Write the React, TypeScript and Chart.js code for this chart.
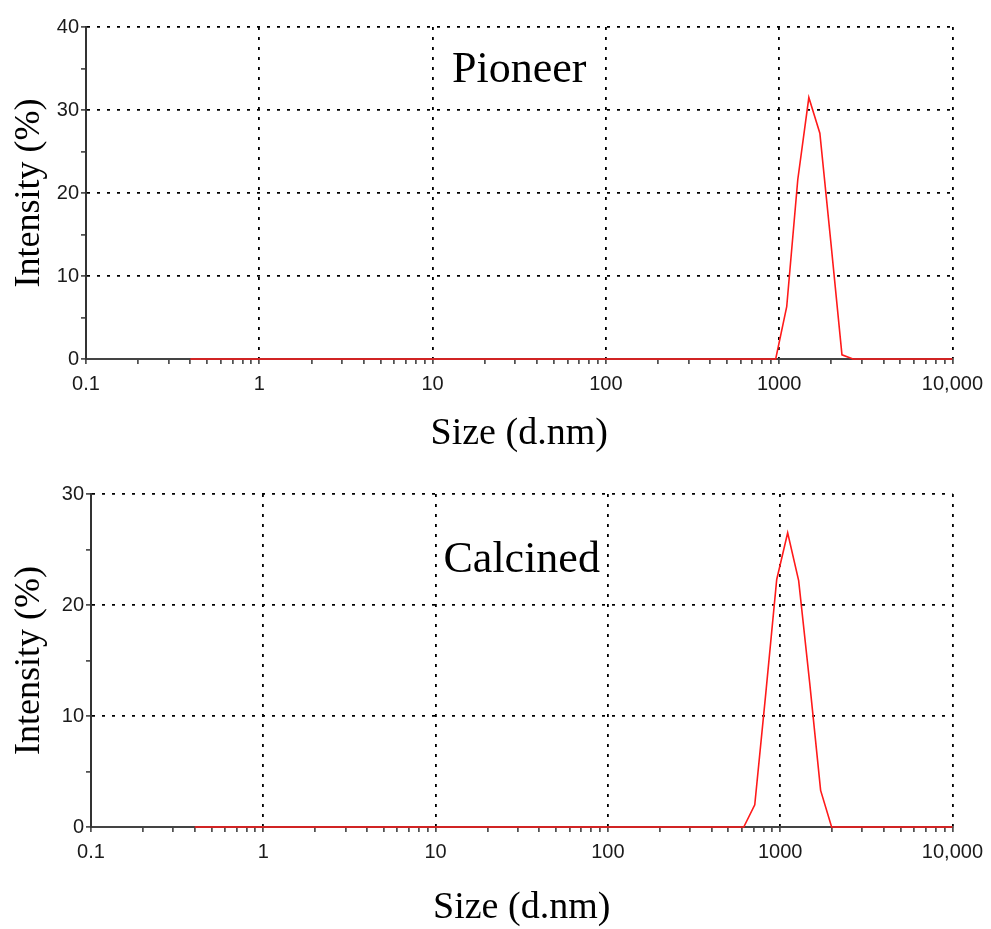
import React, { useEffect, useRef } from 'react';
import { Chart, registerables } from 'chart.js';

Chart.register(...registerables);

// Size bins (d.nm), log-spaced instrument classes
const SIZES_NM = [
  0.4, 0.4632, 0.5365, 0.6213, 0.7195, 0.8332, 0.9649, 1.117, 1.294, 1.499,
  1.736, 2.01, 2.328, 2.696, 3.122, 3.615, 4.187, 4.849, 5.615, 6.503,
  7.531, 8.721, 10.1, 11.7, 13.54, 15.69, 18.17, 21.04, 24.36, 28.21,
  32.67, 37.84, 43.82, 50.75, 58.77, 68.06, 78.82, 91.28, 105.7, 122.4,
  141.8, 164.2, 190.1, 220.2, 255.0, 295.3, 342.0, 396.1, 458.7, 531.2,
  615.1, 712.4, 825.0, 955.4, 1106, 1281, 1484, 1718, 1990, 2305,
  2669, 3091, 3580, 4145, 4801, 5560, 6439, 7456, 8635, 10000,
];

// Intensity (%) per bin
const PIONEER_INTENSITY = [
  0, 0, 0, 0, 0, 0, 0, 0, 0, 0,
  0, 0, 0, 0, 0, 0, 0, 0, 0, 0,
  0, 0, 0, 0, 0, 0, 0, 0, 0, 0,
  0, 0, 0, 0, 0, 0, 0, 0, 0, 0,
  0, 0, 0, 0, 0, 0, 0, 0, 0, 0,
  0, 0, 0, 0, 6.3, 21.6, 31.5, 27.2, 14.0, 0.5,
  0, 0, 0, 0, 0, 0, 0, 0, 0, 0,
];

const CALCINED_INTENSITY = [
  0, 0, 0, 0, 0, 0, 0, 0, 0, 0,
  0, 0, 0, 0, 0, 0, 0, 0, 0, 0,
  0, 0, 0, 0, 0, 0, 0, 0, 0, 0,
  0, 0, 0, 0, 0, 0, 0, 0, 0, 0,
  0, 0, 0, 0, 0, 0, 0, 0, 0, 0,
  0, 2.0, 12.0, 22.3, 26.5, 22.2, 13.0, 3.3, 0, 0,
  0, 0, 0, 0, 0, 0, 0, 0, 0, 0,
];

const X_MAJOR_TICKS = [0.1, 1, 10, 100, 1000, 10000];
const X_MAJOR_LABELS = ['0.1', '1', '10', '100', '1000', '10,000'];
const X_MINOR_MULTIPLIERS = [2, 3, 4, 5, 6, 7, 8, 9];

const PIONEER_Y_MAX = 40;
const CALCINED_Y_MAX = 30;
const Y_STEP = 5;
const Y_LABEL_STEP = 10;

const X_TITLE = 'Size (d.nm)';
const Y_TITLE = 'Intensity (%)';

const SERIF = '"Liberation Serif", "Times New Roman", serif';
const SANS = '"Liberation Sans", Arial, sans-serif';

const closeTo = (a: number, b: number) => Math.abs(a - b) <= Math.abs(b) * 1e-6;
const majorIndex = (v: number) => X_MAJOR_TICKS.findIndex((t) => closeTo(v, t));

const X_ALL_TICKS: number[] = (() => {
  const out: number[] = [];
  X_MAJOR_TICKS.forEach((t, i) => {
    out.push(t);
    if (i < X_MAJOR_TICKS.length - 1) X_MINOR_MULTIPLIERS.forEach((m) => out.push(t * m));
  });
  return out;
})();

const panelLabelPlugin = {
  id: 'panelLabel',
  afterDatasetsDraw(chart: any, _args: any, opts: any) {
    const { ctx, chartArea, scales } = chart;
    ctx.save();
    ctx.font = `44px ${SERIF}`;
    ctx.fillStyle = '#000';
    ctx.textAlign = 'center';
    ctx.textBaseline = 'alphabetic';
    ctx.fillText(opts.text, (chartArea.left + chartArea.right) / 2, scales.y.getPixelForValue(opts.y));
    ctx.restore();
  },
};

type PanelProps = {
  label: string;
  labelY: number;
  values: number[];
  yMax: number;
  top: number;
  height: number;
  area: { left: number; right: number; top: number; bottom: number };
  xTitlePad: number;
};

function Panel({ label, labelY, values, yMax, top, height, area, xTitlePad }: PanelProps) {
  const ref = useRef<HTMLCanvasElement | null>(null);

  useEffect(() => {
    if (!ref.current) return;
    const width = 991;
    const chart = new Chart(ref.current, {
      type: 'line',
      data: {
        datasets: [
          {
            data: SIZES_NM.map((s, i) => ({ x: s, y: values[i] })),
            borderColor: '#ff1a1a',
            borderWidth: 1.6,
            pointRadius: 0,
            tension: 0,
            fill: false,
            clip: 6,
          } as any,
        ],
      },
      options: {
        responsive: false,
        maintainAspectRatio: false,
        animation: false,
        layout: {
          autoPadding: false,
          padding: { left: 0, top: area.top, right: width - area.right, bottom: 0 },
        } as any,
        plugins: {
          legend: { display: false },
          tooltip: { enabled: false },
          panelLabel: { text: label, y: labelY },
        } as any,
        scales: {
          x: {
            type: 'logarithmic',
            min: X_MAJOR_TICKS[0],
            max: X_MAJOR_TICKS[X_MAJOR_TICKS.length - 1],
            afterBuildTicks: (scale: any) => {
              scale.ticks = X_ALL_TICKS.map((v) => ({ value: v }));
            },
            afterFit: (scale: any) => {
              scale.height = height - area.bottom;
            },
            ticks: {
              autoSkip: false,
              maxRotation: 0,
              minRotation: 0,
              padding: 8,
              color: '#1a1a1a',
              font: { family: SANS, size: 20 },
              callback: (value: any) => {
                const i = majorIndex(Number(value));
                return i >= 0 ? X_MAJOR_LABELS[i] : '';
              },
            },
            grid: {
              color: (ctx: any) => {
                const v = ctx.tick ? ctx.tick.value : NaN;
                const i = majorIndex(v);
                return i > 0 ? '#000' : 'rgba(0,0,0,0)';
              },
              lineWidth: 1.8,
              drawTicks: true,
              tickLength: 5,
              tickColor: '#333',
              tickWidth: 1.5,
            },
            border: { display: true, color: '#444', width: 2, dash: [3, 7] },
            title: {
              display: true,
              text: X_TITLE,
              color: '#000',
              font: { family: SERIF, size: 38, lineHeight: 1.1 },
              padding: { top: 0, bottom: xTitlePad },
            },
          },
          y: {
            type: 'linear',
            min: 0,
            max: yMax,
            afterFit: (scale: any) => {
              scale.width = area.left;
            },
            ticks: {
              stepSize: Y_STEP,
              padding: 2,
              color: '#1a1a1a',
              font: { family: SANS, size: 20 },
              callback: (value: any) => (Number(value) % Y_LABEL_STEP === 0 ? String(value) : ''),
            },
            grid: {
              color: (ctx: any) => {
                const v = ctx.tick ? ctx.tick.value : NaN;
                return v > 0 && v % Y_LABEL_STEP === 0 ? '#000' : 'rgba(0,0,0,0)';
              },
              lineWidth: 1.8,
              drawTicks: true,
              tickLength: 5,
              tickColor: '#333',
              tickWidth: 1.5,
            },
            border: { display: true, color: '#333', width: 2, dash: [3, 7] },
            title: {
              display: true,
              text: Y_TITLE,
              color: '#000',
              font: { family: SERIF, size: 36, lineHeight: 1.1 },
              padding: { top: 10, bottom: 0 },
            },
          },
        },
      } as any,
      plugins: [panelLabelPlugin as any],
    });
    return () => chart.destroy();
  }, [label, labelY, values, yMax, height, area, xTitlePad]);

  return (
    <canvas
      ref={ref}
      width={991}
      height={height}
      style={{ position: 'absolute', left: 0, top, width: 991, height, display: 'block' }}
    />
  );
}

const TOP_AREA = { left: 86, right: 953, top: 27, bottom: 359 };
const BOTTOM_AREA = { left: 91, right: 958, top: 29, bottom: 362 };

export default function App() {
  return (
    <div
      style={{
        position: 'absolute',
        left: 0,
        top: 0,
        width: 991,
        height: 929,
        background: '#fff',
        overflow: 'hidden',
      }}
    >
      <Panel
        label="Pioneer"
        labelY={33.4}
        values={PIONEER_INTENSITY}
        yMax={PIONEER_Y_MAX}
        top={0}
        height={465}
        area={TOP_AREA}
        xTitlePad={10}
      />
      <Panel
        label="Calcined"
        labelY={23.0}
        values={CALCINED_INTENSITY}
        yMax={CALCINED_Y_MAX}
        top={465}
        height={464}
        area={BOTTOM_AREA}
        xTitlePad={0}
      />
    </div>
  );
}
